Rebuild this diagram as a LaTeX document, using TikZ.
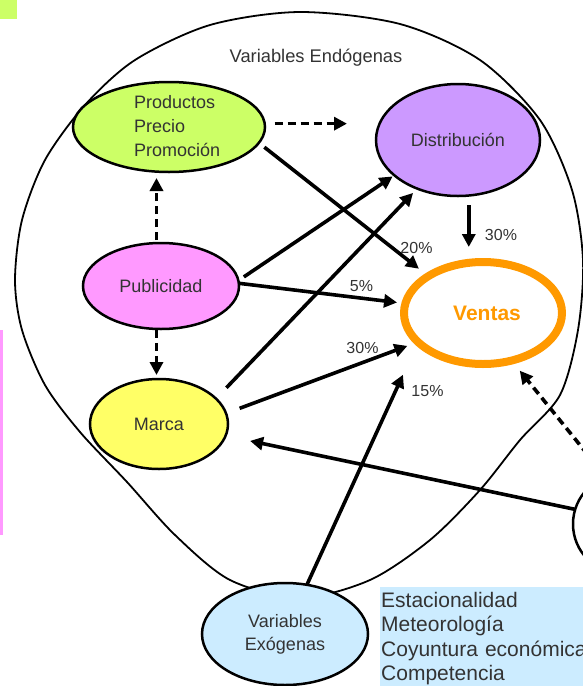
\documentclass[tikz,border=0pt]{standalone}
\usepackage{fontspec}
\setmainfont{Liberation Sans}
\usepackage{tikz}
\usetikzlibrary{arrows.meta,shapes.geometric}
\definecolor{prodgreen}{RGB}{204,255,102}
\definecolor{distviolet}{RGB}{204,153,255}
\definecolor{pubpink}{RGB}{255,153,255}
\definecolor{marcayellow}{RGB}{255,255,102}
\definecolor{ventasorange}{RGB}{255,153,0}
\definecolor{exoblue}{RGB}{204,236,255}
\definecolor{inkgray}{RGB}{51,51,51}
\tikzset{
  endo/.style={ellipse,draw=black,line width=2.5pt,inner sep=0pt,outer sep=0pt,
    text=inkgray,align=center,font=\fontsize{18}{23}\selectfont},
  capline/.style={text height=12.9pt,text depth=0pt},
  pct/.style={font=\fontsize{16}{19}\selectfont,text=inkgray,inner sep=0pt,
    text height=11.5pt,text depth=0pt},
  flow/.style={-{Triangle[length=13pt,width=13pt]},line width=3.6pt},
  dashflow/.style={flow,dash pattern=on 8pt off 5pt}
}

\begin{document}
\begin{tikzpicture}[x=1pt,y=-1pt]
  \useasboundingbox (0,0) rectangle (583,686);
  \clip (0,0) rectangle (583,686);
  \fill[prodgreen] (0,0) rectangle (17,19);
  \fill[pubpink] (0,330) rectangle (3,535);
  \draw[line width=1.8pt] plot[smooth cycle] coordinates {
    (300,12) (400,24) (480,60) (540,120) (572,190) (583,260) (578,330)
    (560,395) (520,440) (480,490) (430,540) (370,580) (300,598) (230,580)
    (175,535) (127,482) (80,432) (45,385) (22,330) (15,280) (22,220)
    (45,160) (85,105) (135,60) (210,25)};
  \node[pct,font=\fontsize{18.3}{21}\selectfont,text height=13pt] (endotitle) at (316,55.5) {Variables Endógenas};

  \node[endo,fill=prodgreen,minimum width=192pt,minimum height=90pt] (prod) at (169,127) {};
  \node[anchor=west,inner sep=0pt,align=left,text=inkgray,
    font=\fontsize{18}{24}\selectfont] (prodtxt) at (134,126.3) {Productos\\Precio\\Promoción};
  \node[endo,capline,fill=distviolet,minimum width=164pt,minimum height=112pt] (dist) at (458,140) {Distribución};
  \node[endo,capline,fill=pubpink,minimum width=156pt,minimum height=86pt] (pub) at (161,286) {Publicidad};
  \node[endo,capline,fill=marcayellow,minimum width=138pt,minimum height=90pt] (marca) at (159,424) {Marca};
  \node[endo,draw=ventasorange,line width=8pt,text=ventasorange,
    font=\bfseries\fontsize{21}{24}\selectfont,text height=15pt,text depth=0pt,
    minimum width=158pt,minimum height=102pt] (ventas) at (483,313) {\hspace*{8pt}Ventas};
  \node[endo,fill=exoblue,minimum width=166pt,minimum height=102pt] (exo) at (285,634) {Variables\\Exógenas};
  \node[circle,draw=black,line width=2.5pt,fill=white,minimum size=100pt,
    inner sep=0pt,outer sep=0pt] (ext) at (623,524) {};

  \draw[dashflow,shorten <=10pt,shorten >=29pt] (prod.2) -- (prod.2 -| dist.west);
  \draw[flow,shorten <=7pt,shorten >=12pt] (prod.-10.6) -- (ventas.146.5);
  \draw[flow,shorten <=9.5pt,shorten >=15pt] (dist.-79.5) -- (dist.-79.5 |- ventas.north);
  \draw[dashflow,shorten <=3pt,shorten >=6pt] (pub.96.6) -- (pub.96.6 |- prod.south);
  \draw[dashflow,shorten <=1pt,shorten >=4pt] (pub.-96.6) -- (pub.-96.6 |- marca.north);
  \draw[flow,shorten <=6.6pt,shorten >=2pt] (pub.4.1) -- (dist.-151.4);
  \draw[flow,shorten <=15pt,shorten >=6pt] (marca.24.6) -- (dist.-130.3);
  \draw[flow,shorten >=8.4pt] (pub.2.2) -- (ventas.173.4);
  \draw[flow,shorten <=14.5pt,shorten >=11.3pt] (marca.9.8) -- (ventas.-156.5);
  \draw[flow,shorten >=36pt] (exo.66.3) -- (ventas.-156.5);
  \draw[flow,shorten >=25pt] (ext.163.7) -- (marca.-10);
  \draw[dashflow,shorten <=3pt,shorten >=13pt] (ext.110.3) -- (ventas.-59.3);

  \node[pct] (p20) at (416.5,248) {20\%};
  \node[pct] (p30d) at (501,234.5) {30\%};
  \node[pct] (p5) at (361.5,285.5) {5\%};
  \node[pct] (p30m) at (362.5,347.5) {30\%};
  \node[pct] (p15) at (427.5,391) {15\%};

  \node[fill=exoblue,anchor=north west,align=left,text width=230pt,
    inner xsep=1pt,inner ysep=5pt,text=inkgray,
    font=\fontsize{21}{24.4}\selectfont] (factors) at (380,587)
    {Estacionalidad\\Meteorología\\Coyuntura económica\\Competencia};
\end{tikzpicture}
\end{document}
